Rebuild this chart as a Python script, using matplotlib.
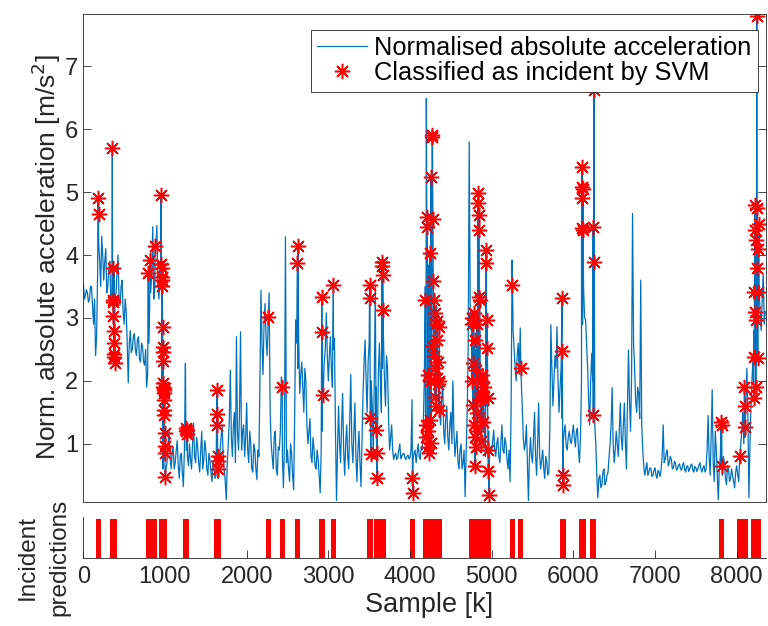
import numpy as np
import matplotlib
matplotlib.use("Agg")
import matplotlib.pyplot as plt

plt.rcParams["font.family"] = ["Liberation Sans", "DejaVu Sans"]

# normalised absolute acceleration, one value every 25 samples
step = 25
accel = [
    3.55, 3.35, 3.4, 3.3, 3.5, 2.9, 2.4, 3.7, 3.9, 4.3, 3.6, 4.1, 3.5, 3.9, 3.3, 3.8,
    3.4, 4.0, 3.2, 3.6, 2.9, 3.1, 1.97, 2.8, 2.5, 2.75, 2.4, 2.7, 2.3, 2.55, 2.25, 1.9,
    2.6, 3.4, 4.45, 3.5, 4.47, 3.3, 3.9, 0.6,
    0.9, 0.7, 1.2, 0.6, 0.95, 0.7, 1.05, 0.45, 0.85, 0.32, 2.28, 0.8, 1.0, 0.6, 1.33, 0.7,
    0.95, 0.55, 1.2, 0.75, 0.9, 0.5, 0.75, 0.4, 0.65, 0.5, 0.45, 0.9, 1.3, 0.6, 0.11, 1.0,
    2.17, 0.8, 1.5, 2.7, 0.9, 2.78, 1.2, 0.8,
    1.65, 0.7, 1.0, 0.55, 0.9, 0.43, 0.8, 3.44, 2.1, 3.23, 2.4, 3.4, 1.0, 0.6, 1.2, 0.5,
    0.9, 2.06, 0.3, 4.29, 0.9, 0.4, 0.85, 0.27, 2.97, 2.2, 1.8, 2.3, 1.5, 2.0, 1.0, 1.4,
    0.7, 0.9, 0.6, 0.75, 0.22, 1.2, 2.3, 3.08,
    2.0, 2.7, 1.9, 2.68, 0.1, 1.6, 0.7, 1.8, 0.5, 1.3, 0.6, 2.1, 0.7, 1.65, 0.4, 1.2,
    0.32, 1.8, 2.65, 1.5, 2.6, 2.0, 0.8, 3.5, 1.0, 2.6, 1.5, 2.7, 1.6, 2.2, 0.9, 1.3,
    0.75, 0.85, 0.78, 1.0, 0.8, 0.85, 0.75, 0.82,
    0.78, 1.7, 0.85, 0.7, 1.0, 0.75, 0.9, 2.0, 6.49, 3.84, 3.0, 5.9, 2.5, 3.2, 1.8, 1.3,
    2.0, 1.0, 1.6, 0.9, 1.5, 2.0, 0.8, 1.2, 0.6, 1.0, 0.7, 0.16, 1.5, 5.8, 2.8, 1.8,
    2.5, 1.2, 2.0, 0.9, 1.5, 0.8, 2.2, 0.9,
    0.9, 1.22, 0.8, 1.1, 0.7, 1.3, 0.85, 1.0, 0.6, 0.4, 3.92, 2.5, 2.0, 2.6, 2.84, 1.5,
    0.9, 1.3, 0.1, 1.1, 0.7, 1.5, 0.5, 1.65, 0.6, 0.9, 0.45, 0.7, 0.55, 2.89, 1.6, 2.4,
    2.86, 1.5, 2.2, 1.0, 1.3, 0.9, 1.2, 1.0,
    1.3, 0.95, 1.25, 0.7, 2.0, 3.5, 2.97, 2.2, 1.3, 2.44, 1.8, 1.0, 0.14, 0.5, 0.35, 0.6,
    0.4, 0.55, 1.0, 1.89, 0.7, 1.2, 0.8, 1.65, 0.9, 1.65, 0.6, 2.49, 1.2, 4.66, 2.2, 1.5,
    1.8, 3.6, 0.9, 0.5, 0.7, 0.55, 0.6, 0.5,
    0.62, 0.45, 0.55, 0.6, 1.3, 0.75, 0.9, 0.7, 0.75, 0.62, 0.7, 0.6, 0.68, 0.58, 0.7, 0.55,
    0.65, 0.6, 0.68, 0.55, 0.62, 0.6, 0.7, 0.55, 0.65, 0.6, 1.45, 0.5, 1.86, 0.4, 0.9, 0.11,
    0.8, 0.5, 0.7, 0.35, 0.6, 0.45, 0.5, 0.3,
    0.65, 0.4, 1.0, 1.5, 1.1, 2.2, 0.14, 1.6, 2.4, 3.0, 3.5, 3.4, 2.8, 3.7, 3.1,
]

# values half-way between the samples above (sample 12.5, 37.5, ...)
accel_mid = [
    3.3, 3.45, 3.25, 3.5, 3.2, 3.3, 2.7, 4.2, 3.5, 4.0, 3.9, 3.4, 3.8, 3.2, 3.6, 3.3,
    3.7, 3.3, 3.5, 3.1, 3.3, 2.6, 2.6, 2.45, 2.7, 2.5, 2.65, 2.35, 2.6, 2.3, 2.5, 2.1,
    3.2, 3.7, 3.3, 4.1, 3.6, 3.6, 1.9, 0.75,
    0.6, 1.0, 0.8, 0.85, 0.6, 0.9, 0.65, 0.8, 0.55, 0.9, 0.9, 0.65, 0.75, 1.0, 0.8, 1.1,
    0.7, 0.9, 0.6, 1.05, 0.6, 0.85, 0.55, 0.7, 0.45, 0.75, 0.65, 1.1, 0.8, 0.4, 0.7, 1.4,
    1.1, 1.3, 0.7, 1.2, 1.5, 0.9, 1.3, 1.1,
    0.9, 1.2, 0.6, 1.0, 0.6, 0.9, 2.0, 2.6, 2.9, 2.7, 2.9, 1.5, 0.8, 1.1, 0.6, 0.95,
    1.2, 0.8, 1.0, 0.7, 0.6, 1.0, 0.5, 1.4, 2.6, 2.6, 2.1, 1.9, 2.2, 1.3, 1.2, 0.8,
    1.1, 0.65, 0.9, 0.5, 0.9, 1.8, 2.5, 2.4,
    2.4, 2.2, 2.5, 1.2, 0.9, 1.0, 1.3, 0.9, 1.0, 0.8, 1.4, 1.0, 1.2, 0.8, 0.9, 0.7,
    1.1, 2.3, 2.0, 2.3, 1.4, 1.6, 2.0, 1.9, 2.1, 2.0, 2.2, 2.0, 2.4, 1.4, 1.1, 0.9,
    0.82, 0.75, 0.9, 0.76, 0.84, 0.78, 0.8, 0.76,
    0.9, 0.75, 0.9, 0.85, 0.8, 0.95, 1.3, 3.5, 4.2, 3.3, 3.8, 3.0, 2.8, 1.9, 1.5, 1.7,
    1.2, 1.4, 1.1, 1.3, 1.0, 1.2, 1.0, 0.7, 0.9, 0.6, 0.9, 0.8, 2.5, 3.2, 2.2, 2.6,
    1.6, 1.8, 1.3, 1.2, 1.1, 1.6, 1.2, 0.95,
    1.05, 0.9, 1.0, 0.8, 1.0, 0.9, 1.1, 0.75, 0.9, 1.5, 2.8, 2.2, 2.4, 2.1, 2.0, 1.1,
    1.0, 0.7, 0.8, 0.8, 1.1, 0.8, 1.0, 0.8, 0.75, 0.6, 0.8, 0.5, 1.3, 2.2, 2.0, 2.2,
    2.0, 1.9, 1.4, 1.2, 0.95, 1.1, 1.05, 1.15,
    1.1, 1.2, 0.9, 1.1, 2.9, 3.0, 2.6, 1.7, 2.0, 2.0, 1.3, 0.5, 0.45, 0.3, 0.55, 0.35,
    0.5, 0.8, 1.3, 1.0, 0.9, 1.0, 1.2, 1.1, 1.3, 1.0, 1.6, 1.7, 2.0, 2.6, 1.7, 1.9,
    1.4, 1.3, 0.65, 0.6, 0.5, 0.62, 0.48, 0.58,
    0.5, 0.58, 0.48, 0.8, 0.7, 0.85, 0.65, 0.8, 0.6, 0.72, 0.58, 0.66, 0.6, 0.66, 0.6, 0.64,
    0.56, 0.66, 0.58, 0.64, 0.56, 0.66, 0.6, 0.62, 0.55, 0.9, 0.8, 1.1, 0.7, 1.2, 0.5, 0.6,
    0.6, 0.8, 0.45, 0.65, 0.4, 0.6, 0.4, 0.55,
    0.5, 0.8, 1.2, 1.0, 1.7, 1.4, 1.0, 2.0, 2.8, 2.6, 3.0, 3.1, 3.3, 2.9,
]

# samples classified as incident by the SVM and the signal value there
inc_x = [
    180, 186,
    355, 358, 361, 364, 367, 370, 373, 376, 379, 382,
    795, 817, 878, 952, 955, 958, 961, 964, 967,
    970, 972, 974, 976, 978, 980, 982, 984, 986, 988, 990, 992, 994, 996, 998, 1000,
    1255, 1260, 1265, 1268,
    1636, 1639, 1642, 1645, 1648, 1651,
    2265, 2436, 2622, 2628, 2920, 2925, 2930, 3062,
    3505, 3510, 3515, 3520, 3585, 3590, 3595, 3655, 3660, 3665, 3670,
    4030, 4035,
    4185, 4190, 4195, 4205, 4210, 4215, 4220, 4225, 4230, 4240, 4245, 4250, 4255, 4260,
    4265, 4270, 4275, 4280, 4285, 4290, 4295, 4300, 4305, 4310, 4315, 4320, 4325, 4330,
    4335, 4340, 4345, 4350, 4355, 4360,
    4755, 4760, 4765, 4770, 4775, 4780, 4785, 4790, 4795, 4800, 4805, 4810, 4815, 4820,
    4825, 4830, 4835, 4840, 4845, 4850, 4855, 4860, 4865, 4870, 4875, 4880, 4885, 4890,
    4900, 4930, 4935, 4940, 4945, 4950, 4955, 4960, 4965,
    5255, 5357, 5862, 5866, 5870, 5874,
    6100, 6104, 6108, 6112, 6116, 6120, 6240, 6244, 6248, 6252,
    7810, 7815, 7820, 8040, 8095, 8100, 8105,
    8210, 8214, 8218, 8222, 8226, 8230, 8234, 8238, 8242, 8246, 8250, 8254, 8258, 8262,
    8266, 8270,
]
inc_y = [
    4.9, 4.65,
    5.7, 3.8, 3.28, 3.25, 3.03, 2.8, 2.6, 2.43, 2.38, 2.28,
    3.71, 3.92, 4.15, 4.95, 3.85, 3.8, 3.65, 3.6, 3.5,
    2.86, 2.54, 2.46, 2.31, 1.97, 1.9, 1.88, 1.85, 1.81, 1.7, 1.54, 1.46, 1.17, 0.97, 0.85, 0.48,
    1.25, 1.2, 1.15, 1.22,
    1.85, 1.48, 1.3, 0.8, 0.72, 0.6,
    3.02, 1.91, 3.87, 4.14, 3.34, 2.78, 1.78, 3.52,
    3.52, 3.31, 1.41, 0.83, 1.22, 0.85, 0.46, 3.89, 3.82, 3.68, 3.13,
    0.45, 0.22,
    3.29, 1.3, 1.1, 4.61, 4.45, 1.2, 0.95, 2.1, 0.85, 4.03, 1.38, 2.0, 5.24, 1.02,
    2.55, 5.9, 5.87, 4.58, 3.58, 2.4, 3.29, 1.75, 3.08, 2.2, 2.9, 1.6, 2.65, 2.05,
    2.95, 1.95, 2.3, 1.54, 2.0, 2.85,
    3.0, 2.0, 2.9, 1.62, 2.28, 3.08, 1.3, 2.65, 0.64, 1.1, 2.17, 0.95, 1.49, 2.9,
    1.2, 4.98, 4.82, 4.63, 4.4, 3.34, 3.29, 1.7, 2.0, 1.8, 1.05, 2.1, 1.75, 1.35,
    1.9, 4.08, 3.87, 2.97, 2.52, 1.73, 0.9, 0.56, 0.19,
    3.52, 2.2, 3.31, 2.47, 0.51, 0.35,
    4.43, 5.4, 5.08, 4.9, 5.05, 4.4, 4.45, 1.46, 3.89, 6.62,
    1.35, 1.3, 0.64, 0.8, 1.9, 1.6, 1.26,
    1.73, 2.38, 3.42, 4.79, 3.1, 4.4, 1.9, 4.24, 2.97, 7.8, 4.75, 3.8, 2.36, 4.1,
    3.42, 4.5,
]

x_ticks = [0, 1000, 2000, 3000, 4000, 5000, 6000, 7000, 8000]
y_ticks = [1, 2, 3, 4, 5, 6, 7]

blue = "#0072BD"
red = "#FF0000"
dark = "#262626"

xs = np.arange(len(accel)) * step
xs_mid = xs[:-1] + step / 2
all_x = np.concatenate([xs, xs_mid, inc_x])
all_y = np.concatenate([accel, accel_mid, inc_y])
order = np.argsort(all_x, kind="stable")

fig = plt.figure(figsize=(7.68, 6.26), dpi=100)
ax = fig.add_axes([0.1085, 0.1986, 0.889, 0.779])
ax2 = fig.add_axes([0.1085, 0.109, 0.889, 0.0655])

asterisk = (8, 2, 0)
ax.plot(all_x[order], all_y[order], color=blue, lw=0.9, label="Normalised absolute acceleration")
ax.plot(inc_x, inc_y, ls="none", marker=asterisk, ms=11, mew=1.1, color=red,
        label="Classified as incident by SVM")

ax.set_xlim(0, 8360)
ax.set_ylim(0.08, 7.83)
ax.set_xticks([])
ax.set_yticks(y_ticks)
ax.tick_params(axis="y", direction="in", right=True, length=6, width=0.6,
               color=dark, labelcolor=dark, labelsize=17)
for s in ax.spines.values():
    s.set_color(dark)
    s.set_linewidth(0.6)

leg = ax.legend(loc="upper right", bbox_to_anchor=(0.988, 0.968), borderaxespad=0,
                fancybox=False, edgecolor=dark, framealpha=1, fontsize=18.3,
                handlelength=1.95, handletextpad=0.3, borderpad=0.25, labelspacing=0.05)
leg.get_frame().set_linewidth(0.6)

ax2.bar(inc_x, [1] * len(inc_x), width=60, color=red, edgecolor="none")
ax2.set_xlim(0, 8360)
ax2.set_ylim(0, 1.05)
ax2.set_yticks([])
ax2.set_xticks(x_ticks)
ax2.tick_params(axis="x", direction="in", length=6, width=0.6, color=dark,
                labelcolor=dark, labelsize=17, pad=6)
ax2.spines["top"].set_visible(False)
ax2.spines["right"].set_visible(False)
for s in ("left", "bottom"):
    ax2.spines[s].set_color(dark)
    ax2.spines[s].set_linewidth(0.6)

fig.text(0.06, 0.5887, "Norm. absolute acceleration [m/s$^2$]", rotation=90,
         ha="center", va="center", fontsize=19, color=dark)
fig.text(0.057, 0.110, "Incident\npredictions", rotation=90, ha="center", va="center",
         fontsize=17.5, color=dark, linespacing=1.55)
fig.text(0.559, 0.033, "Sample [k]", ha="center", va="center", fontsize=19.5, color=dark)

fig.savefig("out.png", dpi=100)
